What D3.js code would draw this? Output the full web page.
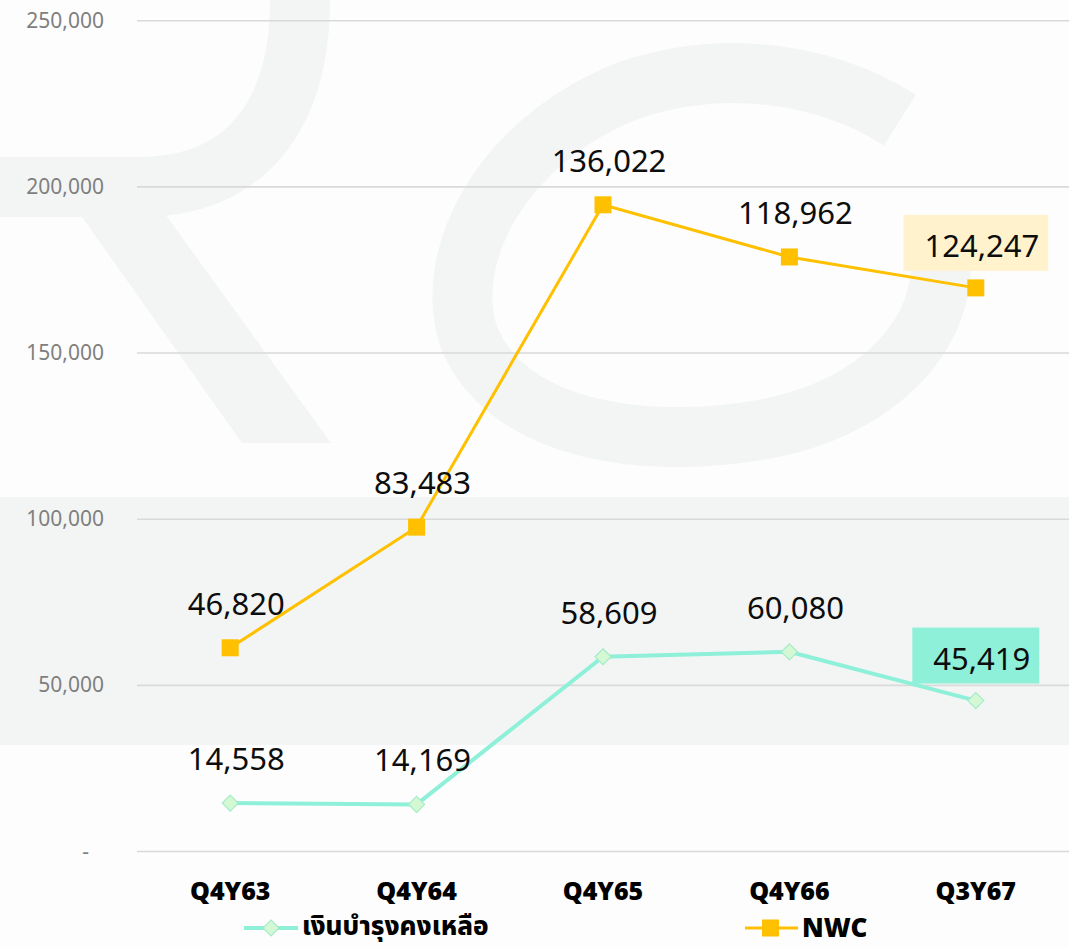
<!DOCTYPE html>
<html>
<head>
<meta charset="utf-8">
<script src="https://cdn.jsdelivr.net/npm/d3@7"></script>
<style>
  html, body { margin: 0; padding: 0; background: #fcfdfc; }
  #chart { width: 1069px; height: 947px; }
</style>
</head>
<body>
<div id="chart"></div>
<script>
// categories and series
const quarters = ["Q4Y63", "Q4Y64", "Q4Y65", "Q4Y66", "Q3Y67"];
const reserveName = "เงินบำรุงคงเหลือ";
const reserveValues = [14558, 14169, 58609, 60080, 45419];
const reserveLabels = ["14,558", "14,169", "58,609", "60,080", "45,419"];
const nwcName = "NWC";
// plotted heights as drawn in the picture (labels differ from the drawn points)
const nwcValues = [61300, 97600, 194600, 178900, 169600];
const nwcLabels = ["46,820", "83,483", "136,022", "118,962", "124,247"];
const yTicks = [0, 50000, 100000, 150000, 200000, 250000];
const yTickLabels = ["-", "50,000", "100,000", "150,000", "200,000", "250,000"];

const width = 1069, height = 947;
const margin = { top: 20.7, right: 0, bottom: 95, left: 137 };
const nwcColor = "#ffc000";
const reserveColor = "#8ef0d8";
const watermark = "#f3f5f4";
const bg = "#fcfdfc";
const font = "'Noto Sans', 'Open Sans', sans-serif";

const svg = d3.select("#chart")
    .append("svg")
    .attr("width", width)
    .attr("height", height);

svg.append("rect").attr("width", width).attr("height", height).attr("fill", bg);

// faint watermark behind the chart
const wm = svg.append("g");
wm.append("path")
    .attr("d", "M0,187 L140,187 C250,187 300,110 300,0")
    .attr("fill", "none").attr("stroke", watermark).attr("stroke-width", 60);
wm.append("path")
    .attr("d", "M82,217 L160,207 L331,443 L242,443 Z")
    .attr("fill", watermark);
wm.append("path")
    .attr("d", "M900,120 C820,70 720,60 630,90 C500,140 440,260 470,340 C510,430 640,450 760,430 C880,410 950,330 940,250")
    .attr("fill", "none").attr("stroke", watermark).attr("stroke-width", 60);
wm.append("rect")
    .attr("x", 0).attr("y", 497).attr("width", width).attr("height", 248)
    .attr("fill", watermark);

const x = d3.scalePoint()
    .domain(quarters)
    .range([margin.left, width - margin.right])
    .padding(0.5);

const y = d3.scaleLinear()
    .domain([0, 250000])
    .range([height - margin.bottom - 0.5, margin.top]);

// gridlines
svg.append("g")
    .selectAll("line")
    .data(yTicks)
    .enter()
    .append("line")
    .attr("x1", margin.left)
    .attr("x2", width)
    .attr("y1", d => y(d))
    .attr("y2", d => y(d))
    .attr("stroke", "#d9d9d9")
    .attr("stroke-width", 1.6);

// y axis labels
svg.append("g")
    .selectAll("text")
    .data(yTicks)
    .enter()
    .append("text")
    .attr("x", (d, i) => i === 0 ? 89 : 104)
    .attr("y", d => y(d) + 7)
    .attr("text-anchor", "end")
    .attr("font-family", font)
    .attr("font-size", "21px")
    .attr("fill", "#7f7f7f")
    .text((d, i) => yTickLabels[i]);

// x axis labels
svg.append("g")
    .selectAll("text")
    .data(quarters)
    .enter()
    .append("text")
    .attr("x", d => x(d))
    .attr("y", 900)
    .attr("text-anchor", "middle")
    .attr("font-family", font)
    .attr("font-weight", 900)
    .attr("font-size", "25px")
    .attr("fill", "#000")
    .text(d => d);

const line = d3.line()
    .x(d => x(d.q))
    .y(d => y(d.v));

const reserveData = quarters.map((q, i) => ({ q, v: reserveValues[i], label: reserveLabels[i] }));
const nwcData = quarters.map((q, i) => ({ q, v: nwcValues[i], label: nwcLabels[i] }));

const diamond = s => `M0,${-s}L${s},0L0,${s}L${-s},0Z`;

// reserve series
svg.append("path")
    .datum(reserveData)
    .attr("d", line)
    .attr("fill", "none")
    .attr("stroke", reserveColor)
    .attr("stroke-width", 4);

svg.append("g")
    .selectAll("path")
    .data(reserveData)
    .enter()
    .append("path")
    .attr("d", diamond(8))
    .attr("transform", d => `translate(${x(d.q)},${y(d.v)})`)
    .attr("fill", "#d4f8d4")
    .attr("stroke", "#a4ecc8")
    .attr("stroke-width", 1.2);

// nwc series
svg.append("path")
    .datum(nwcData)
    .attr("d", line)
    .attr("fill", "none")
    .attr("stroke", nwcColor)
    .attr("stroke-width", 3);

svg.append("g")
    .selectAll("rect")
    .data(nwcData)
    .enter()
    .append("rect")
    .attr("x", d => x(d.q) - 8.5)
    .attr("y", d => y(d.v) - 8.5)
    .attr("width", 17)
    .attr("height", 17)
    .attr("fill", nwcColor);

// data labels, last point of each series sits on a filled box
function addLabels(data, boxColor) {
    const g = svg.append("g");
    data.forEach((d, i) => {
        const px = x(d.q), py = y(d.v);
        const last = i === data.length - 1;
        let box = null;
        if (last) box = g.append("rect").attr("fill", boxColor);
        const t = g.append("text")
            .attr("x", px + 6)
            .attr("y", py - (last ? 31 : 33))
            .attr("text-anchor", "middle")
            .attr("font-family", font)
            .attr("font-size", "31px")
            .attr("fill", "#0d0d0d")
            .text(d.label);
        if (box) {
            const w = t.node().getBBox().width + 30;
            box.attr("x", px - w / 2)
                .attr("y", py - 73)
                .attr("width", w)
                .attr("height", 56);
        }
    });
}
addLabels(nwcData, "#fff2cc");
addLabels(reserveData, reserveColor);

// legend
const legend = svg.append("g");
const lg1 = legend.append("g").attr("transform", "translate(244,928)");
lg1.append("line").attr("x1", 0).attr("x2", 54)
    .attr("stroke", reserveColor).attr("stroke-width", 4);
lg1.append("path").attr("d", diamond(8)).attr("transform", "translate(27,0)")
    .attr("fill", "#d4f8d4").attr("stroke", "#a4ecc8").attr("stroke-width", 1.2);
lg1.append("text").attr("x", 58).attr("y", 7)
    .attr("font-family", "'Noto Sans Thai', " + font)
    .attr("font-weight", 800).attr("font-size", "26px").attr("fill", "#000")
    .text(reserveName);

const lg2 = legend.append("g").attr("transform", "translate(745,928)");
lg2.append("line").attr("x1", 0).attr("x2", 53)
    .attr("stroke", nwcColor).attr("stroke-width", 3);
lg2.append("rect").attr("x", 17).attr("y", -8.5).attr("width", 17).attr("height", 17)
    .attr("fill", nwcColor);
lg2.append("text").attr("x", 57).attr("y", 9)
    .attr("font-family", font)
    .attr("font-weight", 900).attr("font-size", "26px").attr("fill", "#000")
    .text(nwcName);
</script>
</body>
</html>
